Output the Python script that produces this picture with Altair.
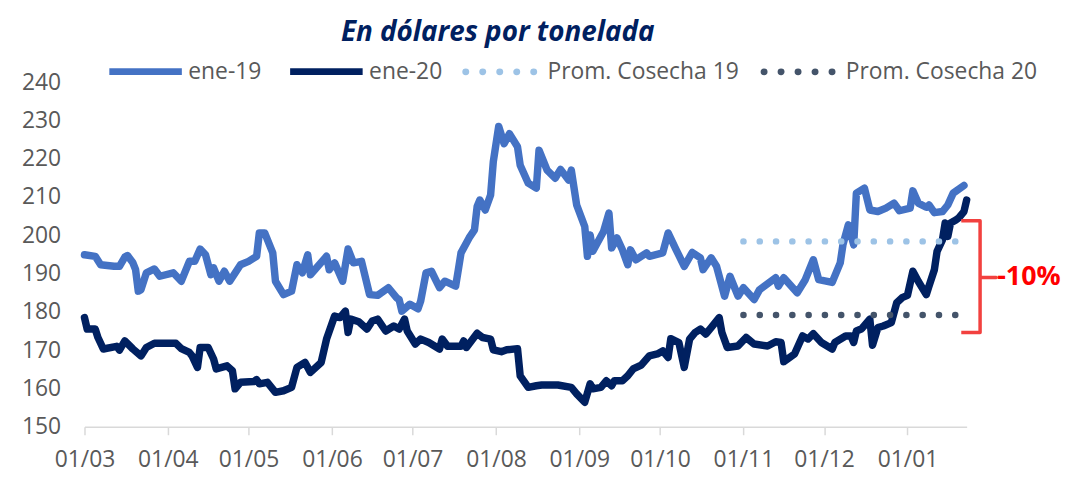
import altair as alt
import pandas as pd

SEASON_START = "2019-03-01"

# days after 1 March and price in USD/t
e19_day = [0, 4, 6, 11, 13, 15, 16, 18, 19, 20,
           21, 23, 26, 28, 33, 36, 39, 41, 43, 45,
           47, 48, 50, 52, 54, 58, 61, 64, 65, 67,
           70, 71, 74, 77, 79, 81, 83, 84, 90, 91,
           93, 96, 98, 100, 103, 106, 109, 113, 116, 117,
           118, 121, 124, 125, 127, 129, 132, 134, 138, 139,
           140, 143, 145, 146, 147, 149, 151, 152, 154, 156,
           158, 161, 162, 165, 168, 169, 172, 175, 177, 180,
           181, 183, 186, 187, 188, 189, 193, 195, 196, 198,
           200, 202, 203, 205, 209, 210, 215, 217, 220, 223,
           226, 229, 230, 233, 235, 238, 240, 243, 245, 249,
           251, 257, 258, 260, 265, 268, 271, 273, 278, 281,
           282, 284, 286, 287, 290, 292, 295, 298, 301, 303,
           307, 308, 310, 313, 314, 316, 319, 321, 323, 327]
e19_val = [194.9, 194.5, 192.3, 191.9, 191.9, 194.3, 194.7, 192.8, 191.0, 185.4,
           185.8, 190.2, 191.2, 189.3, 190.2, 188.0, 193.2, 193.2, 196.4, 194.9,
           189.7, 191.5, 188.0, 190.6, 188.0, 192.3, 193.2, 194.5, 200.6, 200.6,
           195.4, 188.0, 184.5, 185.4, 192.3, 190.2, 194.9, 189.7, 194.5, 191.0,
           192.8, 188.0, 196.4, 192.8, 193.2, 184.5, 184.3, 186.3, 183.7, 183.2,
           180.2, 182.0, 180.8, 182.8, 190.2, 190.6, 186.3, 188.0, 186.7, 191.0,
           195.4, 199.3, 201.4, 207.5, 209.2, 206.6, 210.5, 219.2, 228.4, 223.9,
           226.5, 223.1, 218.3, 213.6, 212.3, 222.2, 217.0, 214.9, 217.2, 214.4,
           217.0, 207.9, 202.3, 194.5, 200.1, 195.8, 201.0, 205.8, 196.7, 199.3,
           196.2, 192.3, 196.2, 193.6, 195.4, 194.5, 195.4, 200.6, 196.2, 191.9,
           195.5, 194.1, 191.0, 194.1, 191.9, 184.1, 189.3, 184.1, 186.3, 183.2,
           185.8, 188.9, 186.7, 188.9, 185.0, 188.4, 193.6, 188.4, 187.7, 192.8,
           197.5, 202.7, 197.5, 211.0, 212.3, 206.6, 206.2, 207.1, 208.4, 206.4,
           207.1, 211.6, 208.4, 207.3, 207.9, 205.9, 206.2, 207.9, 211.0, 213.0]

e20_day = [0, 1, 4, 5, 7, 12, 13, 15, 18, 21,
           23, 26, 34, 36, 39, 40, 42, 43, 46, 48,
           49, 53, 55, 56, 58, 63, 64, 65, 68, 71,
           74, 77, 79, 82, 84, 88, 90, 93, 95, 97,
           98, 99, 102, 105, 107, 109, 112, 115, 117, 119,
           120, 123, 125, 128, 132, 133, 135, 140, 141, 142,
           146, 148, 151, 152, 155, 157, 161, 162, 165, 168,
           170, 176, 181, 183, 186, 188, 189, 192, 194, 196,
           197, 200, 202, 204, 207, 210, 213, 215, 217, 218,
           221, 223, 225, 227, 229, 231, 233, 236, 237, 239,
           243, 246, 249, 254, 257, 259, 260, 264, 267, 269,
           271, 274, 278, 279, 283, 285, 286, 287, 289, 292,
           293, 295, 297, 300, 302, 304, 306, 308, 310, 313,
           314, 316, 317, 319, 320, 321, 322, 324, 325, 327,
           328]
e20_val = [178.5, 175.5, 175.5, 173.3, 170.3, 171.0, 170.0, 172.4, 170.3, 168.5,
           170.7, 171.8, 171.8, 170.4, 169.4, 168.5, 165.5, 170.7, 170.7, 167.7,
           165.1, 165.9, 164.6, 159.9, 161.6, 161.8, 162.3, 161.2, 161.6, 159.0,
           159.4, 160.3, 165.5, 166.8, 164.2, 166.8, 172.9, 178.9, 178.5, 180.2,
           174.6, 178.1, 177.4, 175.5, 177.6, 178.1, 175.0, 176.3, 175.5, 178.1,
           175.0, 171.6, 172.9, 172.0, 170.3, 172.9, 171.0, 171.0, 172.4, 170.7,
           174.4, 173.3, 172.9, 170.1, 169.6, 170.1, 170.4, 163.3, 160.3, 160.7,
           160.9, 160.9, 160.3, 158.6, 156.4, 161.2, 159.9, 160.3, 162.0, 160.7,
           162.0, 162.0, 163.3, 165.1, 166.1, 168.5, 169.0, 169.8, 168.1, 173.0,
           172.0, 165.5, 172.9, 174.6, 175.5, 174.2, 175.9, 178.5, 174.6, 170.7,
           171.1, 173.3, 171.6, 171.1, 172.2, 172.0, 167.0, 169.0, 173.7, 172.9,
           174.3, 172.0, 170.3, 172.0, 173.7, 173.7, 172.0, 175.0, 175.6, 178.1,
           171.3, 175.9, 176.3, 177.2, 182.4, 183.7, 184.3, 190.6, 188.0, 184.5,
           186.7, 191.0, 195.8, 198.8, 203.2, 199.7, 203.2, 204.0, 204.5, 206.2,
           209.2]

line_names = ["ene-19", "ene-20"]
line_colors = ["#4472C4", "#002060"]

prom_names = ["Prom. Cosecha 19", "Prom. Cosecha 20"]
prom_colors = ["#9DC3E6", "#44546A"]
prom_day = [245, 324]
prom_val = [198.4, 179.2]

bracket_day = [326, 333, 333, 339, 333, 333, 326]
bracket_val = [203.8, 203.8, 189.0, 189.0, 189.0, 174.6, 174.6]
label_day = [339]
label_val = [189.0]
label_text = ["-10%"]

month_ticks = [(2019, 3), (2019, 4), (2019, 5), (2019, 6), (2019, 7), (2019, 8),
               (2019, 9), (2019, 10), (2019, 11), (2019, 12), (2020, 1)]
x_end = (2020, 1, 23)
y_ticks = [150, 160, 170, 180, 190, 200, 210, 220, 230, 240]

FONT = "Open Sans"
GREY = "#595959"


def to_dates(days):
    start = pd.Timestamp(SEASON_START)
    return [(start + pd.Timedelta(days=int(d))).strftime("%Y-%m-%dT00:00:00") for d in days]


# legend symbol for the dotted series: five small circles stroked into round dots
dot_units = [-0.9, -0.45, 0.0, 0.45, 0.9]
DOT_R = 0.046
DOTS_PATH = " ".join(
    f"M{u - DOT_R:.4f},0a{DOT_R},{DOT_R} 0 1,0 {2 * DOT_R:.4f},0"
    f"a{DOT_R},{DOT_R} 0 1,0 {-2 * DOT_R:.4f},0Z" for u in dot_units
)

lines_df = pd.DataFrame({
    "date": to_dates(e19_day) + to_dates(e20_day),
    "value": e19_val + e20_val,
    "serie": [line_names[0]] * len(e19_day) + [line_names[1]] * len(e20_day),
})

prom_rows = []
for name, v in zip(prom_names, prom_val):
    for d in to_dates(prom_day):
        prom_rows.append({"date": d, "value": v, "serie": name})
prom_df = pd.DataFrame(prom_rows)

bracket_df = pd.DataFrame({
    "date": to_dates(bracket_day),
    "value": bracket_val,
    "i": list(range(len(bracket_day))),
})
label_df = pd.DataFrame({"date": to_dates(label_day), "value": label_val, "t": label_text})

x_axis = alt.Axis(
    values=[alt.DateTime(year=y, month=m, date=1) for y, m in month_ticks],
    format="%d/%m", grid=False,
    domainColor="#D9D9D9", domainWidth=1.5,
    tickColor="#D9D9D9", tickWidth=1.5, tickSize=8,
    labelFont=FONT, labelFontSize=23, labelColor=GREY,
    labelPadding=14, labelFlush=False, labelOverlap=False,
)
y_axis = alt.Axis(
    values=y_ticks, grid=False, domain=False, ticks=False, tickSize=0,
    labelFont=FONT, labelFontSize=23, labelColor=GREY, labelPadding=24,
)
x_enc = alt.X("date:T", title=None, axis=x_axis,
              scale=alt.Scale(domain=[alt.DateTime(year=2019, month=3, date=1),
                                      alt.DateTime(year=x_end[0], month=x_end[1], date=x_end[2])]))
y_enc = alt.Y("value:Q", title=None, axis=y_axis,
              scale=alt.Scale(domain=[150, 240], nice=False, zero=False))

lines = alt.Chart(lines_df).mark_line(strokeWidth=7.5, strokeCap="round", strokeJoin="round").encode(
    x=x_enc, y=y_enc,
    color=alt.Color("serie:N", scale=alt.Scale(domain=line_names, range=line_colors),
                    legend=alt.Legend(title=None, orient="none", legendX=21.5, legendY=-50.5,
                                      direction="horizontal", columns=2, symbolType="stroke",
                                      symbolSize=5329, symbolStrokeWidth=7, labelFont=FONT,
                                      labelFontSize=23, labelColor=GREY, labelOffset=3,
                                      columnPadding=14, padding=0, labelLimit=400)),
)

proms = alt.Chart(prom_df).mark_line(strokeWidth=6.5, strokeCap="round",
                                     strokeDash=[0.1, 16.3]).encode(
    x=x_enc, y=y_enc,
    color=alt.Color("serie:N", scale=alt.Scale(domain=prom_names, range=prom_colors),
                    legend=alt.Legend(title=None, orient="none", legendX=378, legendY=-50.25,
                                      direction="horizontal", columns=2, symbolType=DOTS_PATH,
                                      symbolSize=5776, symbolStrokeWidth=3.5, labelFont=FONT,
                                      labelFontSize=23, labelColor=GREY, labelOffset=8,
                                      columnPadding=16.3, padding=0, labelLimit=400)),
)

bracket = alt.Chart(bracket_df).mark_line(color="#F2413F", strokeWidth=3.5, strokeJoin="round").encode(
    x=x_enc, y=y_enc, order=alt.Order("i:Q"),
)

label = alt.Chart(label_df).mark_text(font=FONT, fontSize=27, fontWeight="bold", color="#FF0000",
                                      align="left", baseline="middle", dx=1).encode(
    x=x_enc, y=y_enc, text="t:N",
)

chart = alt.layer(lines, proms, bracket, label).resolve_scale(color="independent").properties(
    width=888, height=347,
    autosize=alt.AutoSizeParams(type="none"),
    padding={"left": 77, "top": 73, "right": 98, "bottom": 45},
    title=alt.TitleParams("En dólares por tonelada", font=FONT, fontSize=28, fontStyle="italic",
                          fontWeight="bold", color="#002060", anchor="middle", frame="group",
                          baseline="alphabetic", offset=0, dy=37, dx=-28),
    background="white",
).configure_view(stroke="transparent")

chart.save("out.html", embed_options={"renderer": "svg", "actions": False})
